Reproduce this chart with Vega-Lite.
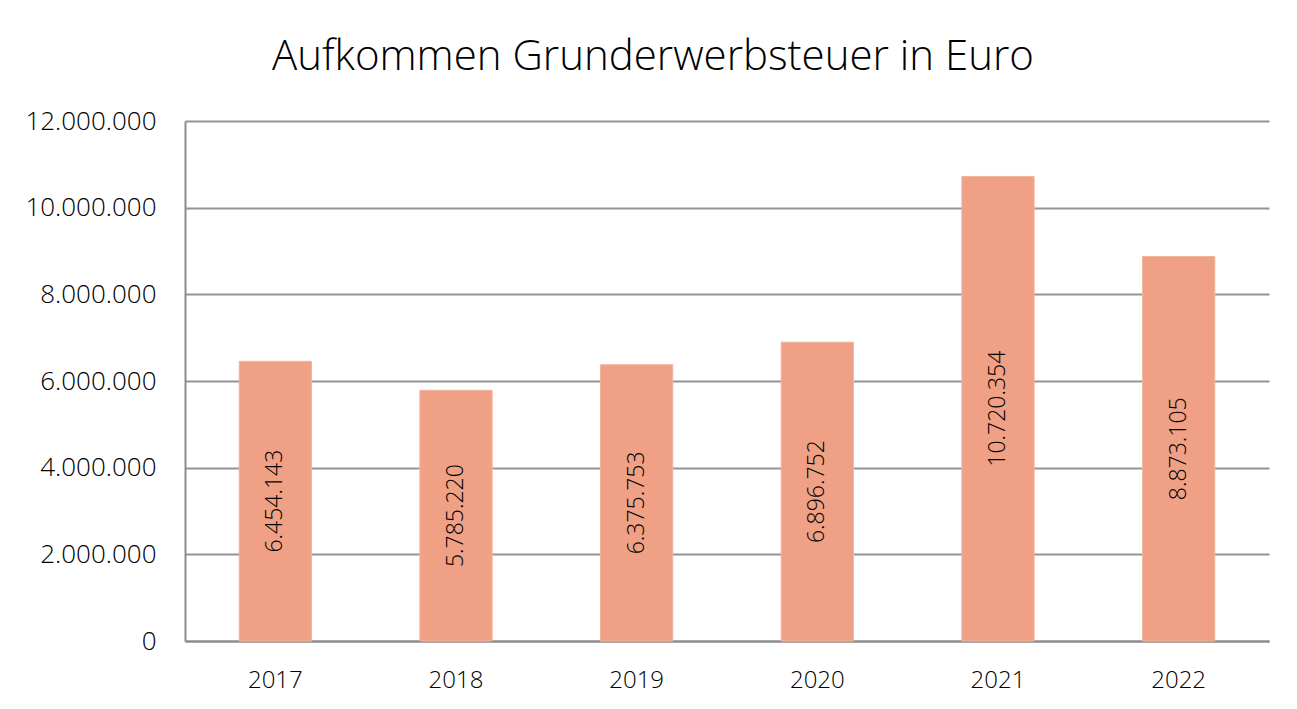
{
  "$schema": "https://vega.github.io/schema/vega-lite/v6.json",
  "width": 1084,
  "height": 520,
  "autosize": {"type": "none"},
  "padding": {"left": 185, "top": 121, "right": 28, "bottom": 68},
  "background": "#ffffff",
  "config": {
    "locale": {"number": {"decimal": ",", "thousands": ".", "grouping": [3], "currency": ["", " €"]}},
    "view": {"stroke": null},
    "font": "Open Sans"
  },
  "title": {
    "text": "Aufkommen Grunderwerbsteuer in Euro",
    "font": "Open Sans",
    "fontSize": 42,
    "fontWeight": 300,
    "color": "#000000",
    "anchor": "middle",
    "frame": "bounds",
    "baseline": "alphabetic",
    "offset": -4,
    "dx": 6
  },
  "data": {
    "values": [
      {"Jahr": "2017", "Betrag": 6454143},
      {"Jahr": "2018", "Betrag": 5785220},
      {"Jahr": "2019", "Betrag": 6375753},
      {"Jahr": "2020", "Betrag": 6896752},
      {"Jahr": "2021", "Betrag": 10720354},
      {"Jahr": "2022", "Betrag": 8873105}
    ]
  },
  "encoding": {
    "x": {
      "field": "Jahr",
      "type": "nominal",
      "title": null,
      "scale": {"paddingInner": 0.6, "paddingOuter": 0.3},
      "axis": {
        "labelAngle": 0,
        "labelFont": "Open Sans",
        "labelFontSize": 24,
        "labelFontWeight": 300,
        "labelColor": "#000000",
        "labelPadding": 27,
        "ticks": false,
        "domainColor": "#8c8c8c",
        "domainWidth": 2,
        "grid": false
      }
    }
  },
  "layer": [
    {
      "mark": {"type": "bar", "color": "#F0A085", "stroke": "#F4B49C", "strokeWidth": 1},
      "encoding": {
        "y": {
          "field": "Betrag",
          "type": "quantitative",
          "title": null,
          "scale": {"domain": [0, 12000000], "nice": false},
          "axis": {
            "values": [0, 2000000, 4000000, 6000000, 8000000, 10000000, 12000000],
            "format": ",d",
            "labelFont": "Open Sans",
            "labelFontSize": 26,
            "labelFontWeight": 300,
            "labelColor": "#000000",
            "labelPadding": 29,
            "ticks": false,
            "domainColor": "#8c8c8c",
            "domainWidth": 2,
            "gridColor": "#939393",
            "gridWidth": 2
          }
        }
      }
    },
    {
      "mark": {"type": "text", "angle": 270, "align": "center", "baseline": "middle", "font": "Open Sans", "fontSize": 23, "fontWeight": 300, "color": "#000000"},
      "encoding": {
        "y": {
          "field": "Betrag",
          "type": "quantitative",
          "scale": {"domain": [0, 24000000], "nice": false},
          "axis": null
        },
        "text": {"field": "Betrag", "type": "quantitative", "format": ",d"}
      }
    }
  ],
  "resolve": {"scale": {"y": "independent"}}
}
